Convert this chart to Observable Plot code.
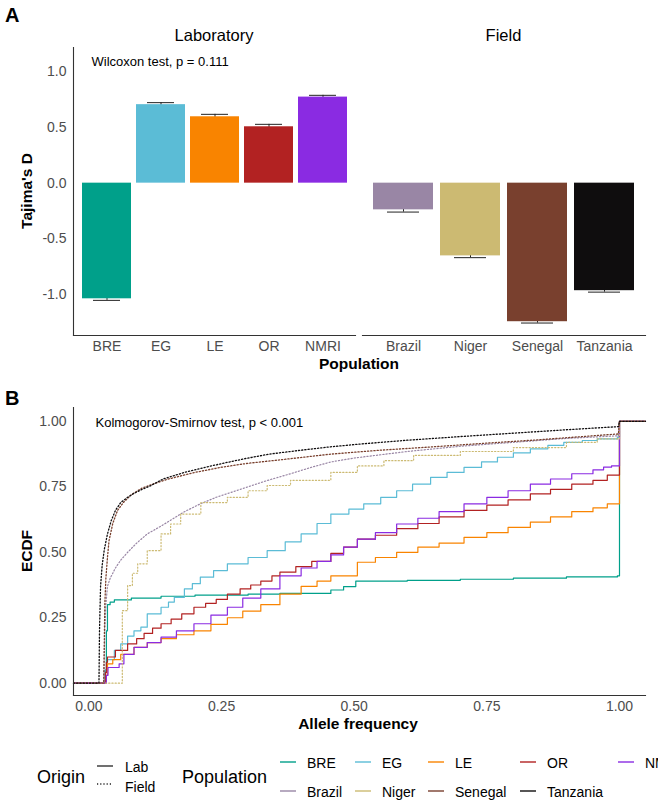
<!DOCTYPE html>
<html><head><meta charset="utf-8">
<script src="https://cdn.jsdelivr.net/npm/d3@7"></script>
<script src="https://cdn.jsdelivr.net/npm/@observablehq/plot@0.6"></script>
<style>
body{margin:0;background:#fff;font-family:"Liberation Sans",Arial,sans-serif;}
#root{position:relative;width:658px;height:800px;overflow:hidden;background:#fff;}
.abs{position:absolute;white-space:nowrap;line-height:1;}
.plot{position:absolute;}
</style></head><body><div id="root"></div>
<script>
// ---------- Panel A data ----------
const labPops = ["BRE","EG","LE","OR","NMRI"];
const labD = [-1.04, 0.706, 0.597, 0.507, 0.774];
const labErr = [0.014, 0.018, 0.022, 0.022, 0.016];
const fieldPops = ["Brazil","Niger","Senegal","Tanzania"];
const fieldD = [-0.24, -0.654, -1.246, -0.967];
const fieldErr = [0.02, 0.016, 0.012, 0.013];
const yTicksA = [-1, -0.5, 0, 0.5, 1];
const yDomainA = [-1.37, 1.22];

// ---------- Colours ----------
const allPops = ["BRE","EG","LE","OR","NMRI","Brazil","Niger","Senegal","Tanzania"];
const allColors = ["#00A08A","#5BBCD6","#F98400","#B22222","#8A2BE2","#9986A5","#CCBA72","#79402E","#0F0D0E"];

// ---------- Panel B data (ECDF points) ----------
const breX = [0.031,0.033,0.035,0.04,0.048,0.08,0.136,0.2,0.3,0.36,0.456,0.48,0.503,0.6,0.7,0.8,0.9,0.996,1.0];
const breY = [0.05,0.2,0.3,0.31,0.318,0.325,0.332,0.336,0.34,0.343,0.356,0.369,0.39,0.393,0.397,0.401,0.406,0.41,1.0];
const egX = [0.03,0.035,0.048,0.06,0.073,0.085,0.098,0.11,0.136,0.15,0.161,0.18,0.195,0.21,0.235,0.261,0.3,0.336,0.37,0.4,0.43,0.456,0.49,0.518,0.55,0.58,0.61,0.644,0.675,0.707,0.74,0.77,0.8,0.832,0.865,0.895,0.93,0.958,0.996,1.0];
const egY = [0.05,0.09,0.125,0.15,0.18,0.2,0.214,0.265,0.29,0.31,0.328,0.36,0.38,0.405,0.43,0.456,0.48,0.506,0.54,0.57,0.61,0.646,0.665,0.685,0.71,0.735,0.76,0.786,0.805,0.824,0.845,0.863,0.88,0.895,0.908,0.92,0.927,0.933,0.94,1.0];
const leX = [0.032,0.035,0.045,0.06,0.085,0.11,0.136,0.165,0.198,0.23,0.261,0.29,0.324,0.36,0.4,0.43,0.456,0.506,0.54,0.58,0.62,0.66,0.707,0.75,0.79,0.832,0.87,0.91,0.95,0.977,1.0];
const leY = [0.03,0.074,0.09,0.11,0.137,0.155,0.17,0.185,0.2,0.225,0.25,0.275,0.3,0.34,0.37,0.39,0.41,0.462,0.48,0.5,0.52,0.535,0.557,0.575,0.595,0.615,0.635,0.655,0.67,0.685,1.0];
const orX = [0.031,0.033,0.035,0.05,0.073,0.09,0.104,0.12,0.136,0.155,0.175,0.198,0.22,0.24,0.261,0.285,0.305,0.324,0.345,0.36,0.39,0.42,0.456,0.48,0.506,0.54,0.58,0.62,0.66,0.707,0.75,0.79,0.832,0.87,0.91,0.95,0.977,1.0];
const orY = [0.04,0.08,0.1,0.125,0.15,0.17,0.19,0.21,0.227,0.245,0.265,0.29,0.305,0.32,0.34,0.36,0.375,0.39,0.41,0.424,0.445,0.465,0.496,0.52,0.55,0.565,0.59,0.61,0.635,0.66,0.68,0.7,0.723,0.74,0.76,0.775,0.795,1.0];
const nmriX = [0.033,0.036,0.057,0.066,0.085,0.11,0.136,0.165,0.198,0.23,0.261,0.29,0.324,0.36,0.4,0.43,0.456,0.48,0.506,0.54,0.58,0.62,0.66,0.707,0.75,0.79,0.832,0.87,0.91,0.95,0.97,0.985,1.0];
const nmriY = [0.03,0.06,0.074,0.11,0.137,0.155,0.176,0.2,0.227,0.26,0.29,0.325,0.36,0.41,0.44,0.465,0.49,0.52,0.55,0.575,0.608,0.63,0.655,0.685,0.71,0.735,0.76,0.78,0.8,0.815,0.825,0.83,1.0];
const nigerX = [0.063,0.073,0.082,0.092,0.11,0.136,0.154,0.173,0.211,0.261,0.3,0.336,0.38,0.456,0.506,0.556,0.612,0.7,0.8,0.9,0.958,1.0];
const nigerY = [0.277,0.373,0.42,0.456,0.506,0.57,0.608,0.646,0.69,0.71,0.735,0.755,0.775,0.805,0.83,0.85,0.87,0.885,0.9,0.92,0.933,1.0];
// near-continuous field ECDFs (drawn as smooth paths)
const brazilX = [0.028,0.03,0.032,0.035,0.04,0.05,0.06,0.073,0.09,0.11,0.136,0.16,0.18,0.21,0.24,0.27,0.3,0.336,0.38,0.42,0.456,0.5,0.6,0.7,0.8,0.9,0.998,1.0];
const brazilY = [0,0.2,0.3,0.37,0.4,0.44,0.47,0.5,0.535,0.57,0.6,0.63,0.655,0.685,0.71,0.73,0.75,0.774,0.8,0.825,0.845,0.86,0.885,0.905,0.92,0.935,0.945,1.0];
const senegalX = [0.028,0.03,0.032,0.035,0.038,0.045,0.054,0.065,0.08,0.1,0.12,0.15,0.2,0.25,0.3,0.36,0.456,0.55,0.65,0.75,0.85,0.95,0.998,1.0];
const senegalY = [0,0.3,0.4,0.48,0.545,0.61,0.66,0.69,0.72,0.745,0.76,0.78,0.805,0.825,0.84,0.853,0.875,0.89,0.903,0.917,0.93,0.945,0.952,1.0];
const tanzaniaX = [0.019,0.02,0.022,0.025,0.029,0.035,0.042,0.05,0.06,0.073,0.085,0.1,0.117,0.14,0.18,0.22,0.26,0.3,0.34,0.4,0.456,0.52,0.6,0.7,0.8,0.9,0.998,1.0];
const tanzaniaY = [0,0.2,0.37,0.45,0.51,0.57,0.62,0.66,0.69,0.71,0.725,0.74,0.755,0.78,0.805,0.825,0.843,0.86,0.875,0.89,0.903,0.915,0.928,0.942,0.955,0.968,0.98,1.0];
const xDomainB = [-0.029, 1.049];
const yDomainB = [-0.047, 1.053];
const ticksB = [0, 0.25, 0.5, 0.75, 1];

// ---------- helpers ----------
const root = document.getElementById("root");
function addText(txt, x, y, opts = {}) {
  const d = document.createElement("div");
  d.className = "abs";
  d.textContent = txt;
  d.style.left = x + "px";
  d.style.top = y + "px";
  d.style.fontSize = (opts.size || 14) + "px";
  d.style.fontWeight = opts.bold ? "bold" : "normal";
  d.style.color = opts.color || "#000";
  let tr = "translateY(-50%)";
  if (opts.center) tr = "translate(-50%,-50%)";
  if (opts.rotate) tr = "translate(-50%,-50%) rotate(-90deg)";
  d.style.transform = tr;
  root.appendChild(d);
  return d;
}
function place(svg, left, top) {
  const w = document.createElement("div");
  w.className = "plot";
  w.style.left = left + "px";
  w.style.top = top + "px";
  w.appendChild(svg);
  root.appendChild(w);
}
const fontFam = '"Liberation Sans", Arial, sans-serif';
const dotted = "1.2,2";

function barPanel(pops, vals, errs, cfg) {
  const rows = pops.map((p, i) => ({pop: p, d: vals[i], lo: vals[i] - errs[i], hi: vals[i] + errs[i]}));
  const marks = [
    Plot.ruleX(rows, {x: "pop", y1: "lo", y2: "hi", stroke: "#222", strokeWidth: 1}),
    Plot.tickY(rows, {x: "pop", y: "lo", stroke: "#222", strokeWidth: 1, insetLeft: cfg.inset, insetRight: cfg.inset}),
    Plot.tickY(rows, {x: "pop", y: "hi", stroke: "#222", strokeWidth: 1, insetLeft: cfg.inset, insetRight: cfg.inset}),
    Plot.barY(rows, {x: "pop", y: "d", fill: "pop"}),
    Plot.frame({anchor: "bottom", stroke: "#333", strokeWidth: 1.1}),
    Plot.axisX({tickSize: 0, tickPadding: 6, label: null, fontSize: 14, fill: "#4D4D4D"})
  ];
  if (cfg.yaxis) {
    marks.push(Plot.frame({anchor: "left", stroke: "#333", strokeWidth: 1.1}));
    marks.push(Plot.axisY({ticks: yTicksA, tickFormat: d => d.toFixed(1), tickSize: 0, tickPadding: 7, label: null, fontSize: 14, fill: "#4D4D4D"}));
    marks.push(Plot.text(["Wilcoxon test, p = 0.111"], {frameAnchor: "top-left", dx: 18, dy: 14, textAnchor: "start", lineAnchor: "middle", fontSize: 13, fill: "#000"}));
  }
  return Plot.plot({
    width: cfg.width, height: 375,
    marginTop: 47, marginBottom: 40, marginLeft: cfg.ml, marginRight: cfg.mr,
    style: {fontFamily: fontFam, background: "transparent", overflow: "visible"},
    x: {domain: pops, paddingInner: 0.1, paddingOuter: 0.15, axis: null},
    y: {domain: yDomainA, axis: null},
    color: {domain: allPops, range: allColors},
    marks
  });
}

// ---------- Panel A ----------
place(barPanel(labPops, labD, labErr, {width: 358, ml: 73, mr: 3, inset: 11, yaxis: true}), 0, 0);
place(barPanel(fieldPops, fieldD, fieldErr, {width: 300, ml: 4, mr: 13, inset: 14, yaxis: false}), 358, 0);

addText("A", 5, 15, {size: 20, bold: true});
addText("Laboratory", 214, 35, {size: 16.5, center: true});
addText("Field", 503.5, 35, {size: 16.5, center: true});
addText("Tajima's D", 27, 191, {size: 15.5, bold: true, rotate: true});
addText("Population", 359, 364, {size: 15.5, bold: true, center: true});

// ---------- Panel B ----------
const series = [
  ["BRE", breX, breY, "Lab"], ["EG", egX, egY, "Lab"], ["LE", leX, leY, "Lab"],
  ["OR", orX, orY, "Lab"], ["NMRI", nmriX, nmriY, "Lab"],
  ["Brazil", brazilX, brazilY, "FieldSmooth"], ["Niger", nigerX, nigerY, "FieldStep"],
  ["Senegal", senegalX, senegalY, "FieldSmooth"], ["Tanzania", tanzaniaX, tanzaniaY, "FieldSmooth"]
];
const ecdf = [];
for (const [pop, xs, ys, kind] of series) {
  ecdf.push({pop, kind, x: xDomainB[0], y: 0});
  xs.forEach((x, i) => ecdf.push({pop, kind, x, y: ys[i]}));
  ecdf.push({pop, kind, x: xDomainB[1], y: 1});
}
const ofKind = k => ecdf.filter(d => d.kind === k);
const ofPop = p => ecdf.filter(d => d.pop === p);

const plotB = Plot.plot({
  width: 658, height: 340,
  marginTop: 27, marginBottom: 25, marginLeft: 73, marginRight: 13,
  style: {fontFamily: fontFam, background: "transparent", overflow: "visible"},
  x: {domain: xDomainB, axis: null},
  y: {domain: yDomainB, axis: null},
  color: {domain: allPops, range: allColors},
  marks: [
    Plot.line(ofKind("Lab"), {x: "x", y: "y", z: "pop", stroke: "pop", curve: "step-after", strokeWidth: 1.2}),
    Plot.line(ofPop("Brazil"), {x: "x", y: "y", stroke: "pop", curve: "linear", strokeWidth: 1.2, strokeDasharray: dotted}),
    Plot.line(ofPop("Niger"), {x: "x", y: "y", stroke: "pop", curve: "step-after", strokeWidth: 1.2, strokeDasharray: dotted}),
    Plot.line(ofPop("Senegal"), {x: "x", y: "y", stroke: "pop", curve: "linear", strokeWidth: 1.3, strokeDasharray: dotted}),
    Plot.line(ofPop("Tanzania"), {x: "x", y: "y", stroke: "pop", curve: "linear", strokeWidth: 1.3, strokeDasharray: dotted}),
    Plot.frame({anchor: "bottom", stroke: "#333", strokeWidth: 1.1}),
    Plot.frame({anchor: "left", stroke: "#333", strokeWidth: 1.1}),
    Plot.axisX({ticks: ticksB, tickFormat: d => d.toFixed(2), tickSize: 0, tickPadding: 6, label: null, fontSize: 14, fill: "#4D4D4D"}),
    Plot.axisY({ticks: ticksB, tickFormat: d => d.toFixed(2), tickSize: 0, tickPadding: 7, label: null, fontSize: 14, fill: "#4D4D4D"}),
    Plot.text(["Kolmogorov-Smirnov test, p < 0.001"], {frameAnchor: "top-left", dx: 22, dy: 15, textAnchor: "start", lineAnchor: "middle", fontSize: 13, fill: "#000"})
  ]
});
place(plotB, 0, 380);

addText("B", 5, 398, {size: 20, bold: true});
addText("ECDF", 27, 551, {size: 15.5, bold: true, rotate: true});
addText("Allele frequency", 358, 724, {size: 15.5, bold: true, center: true});

// ---------- Legend ----------
addText("Origin", 37, 777, {size: 18});
addText("Population", 182, 777, {size: 18});
addText("Lab", 125, 767, {size: 14});
addText("Field", 125, 787, {size: 14});
const legSvg = d3.create("svg").attr("width", 658).attr("height", 60)
  .style("position", "absolute").style("left", "0px").style("top", "740px");
legSvg.append("line").attr("x1", 97).attr("x2", 113).attr("y1", 26).attr("y2", 26).attr("stroke", "#222").attr("stroke-width", 1.3);
legSvg.append("line").attr("x1", 97).attr("x2", 113).attr("y1", 44).attr("y2", 44).attr("stroke", "#222").attr("stroke-width", 1.3).attr("stroke-dasharray", dotted);
root.appendChild(legSvg.node());
const colText = [307, 382, 455, 547, 645];
const rowY = [762.5, 791.5];
allPops.forEach((p, i) => {
  const r = i < 5 ? 0 : 1, c = i < 5 ? i : i - 5;
  const tx = colText[c];
  legSvg.append("line").attr("x1", tx - 27).attr("x2", tx - 11).attr("y1", rowY[r] - 740 - 0.5).attr("y2", rowY[r] - 740 - 0.5)
    .attr("stroke", allColors[i]).attr("stroke-width", 1.4);
  addText(p, tx, rowY[r], {size: 14});
});
</script></body></html>
